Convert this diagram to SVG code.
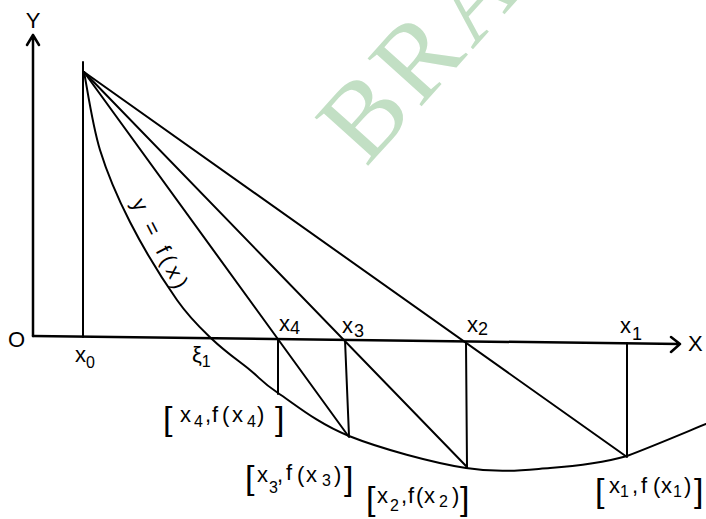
<svg xmlns="http://www.w3.org/2000/svg" width="706" height="519" viewBox="0 0 706 519">
<style>
.ax{stroke:#000;stroke-width:2.5;fill:none;stroke-linecap:round;stroke-linejoin:round}
.ln{stroke:#000;stroke-width:2;fill:none;stroke-linecap:round}
.t{font-family:"Liberation Sans",Arial,sans-serif;font-size:22px;fill:#000}
.s{font-size:16px}
.br{font-size:34px}
.wm{font-family:"Liberation Serif","Times New Roman",serif;font-size:110px;fill:#c2dfc4}
</style>
<rect width="706" height="519" fill="#fff"/>
<text class="wm" x="366" y="168" letter-spacing="6" transform="rotate(-48 366 168)">BRA</text>
<g id="axes">
<path class="ax" d="M33,336 L33,35 M27,45 L33,35 L39,45"/>
<path class="ax" d="M33,336 L680,344 M671,337 L680,344 L671,352"/>
<text class="t" x="33" y="28" text-anchor="middle" font-size="20">Y</text>
<text class="t" x="8" y="347" font-size="20">O</text>
<text class="t" x="688" y="351" font-size="19">X</text>
</g>
<g id="curve">
<path class="ln" d="M84,72 C86.7,85 92.3,125 100,150 C107.7,175 117.2,197 130,222 C142.8,247 163.2,280.3 177,300 C190.8,319.7 200.8,328.3 213,340 C225.2,351.7 239.2,361.2 250,370 C260.8,378.8 261.5,382 278,393 C294.5,404 317.7,423.5 349,436 C380.3,448.5 432.5,462.7 466,468 C499.5,473.3 523.2,470 550,468 C576.8,466 601,463.3 627,456 C653,446.3 692.8,429.3 706,424"/>
<text class="t" x="131" y="203" font-size="20" transform="rotate(63 131 203)" textLength="98">y = f(x)</text>
</g>
<g id="connectors">
<path class="ln" d="M83,62 L83,337"/>
<path class="ln" d="M84,72 L627,457"/>
<path class="ln" d="M84,72 L467,467"/>
<path class="ln" d="M84,72 L349,437"/>
<path class="ln" d="M278,339 L278,394"/>
<path class="ln" d="M345,340 L349,436"/>
<path class="ln" d="M466,342 L467,467"/>
<path class="ln" d="M627,343 L627,456"/>
</g>
<g id="x0"><text class="t" x="75" y="362">x<tspan class="s" y="368">0</tspan></text></g>
<g id="xi1"><text class="t" x="192" y="362" font-size="21">ξ<tspan class="s" font-size="14" y="367">1</tspan></text></g>
<g id="x4"><text class="t" x="279" y="331">x<tspan font-size="18" x="290" y="334">4</tspan></text></g>
<g id="x3"><text class="t" x="342" y="333">x<tspan font-size="18" x="354" y="337">3</tspan></text></g>
<g id="x2"><text class="t" x="467" y="332">x<tspan font-size="18" x="478" y="335">2</tspan></text></g>
<g id="x1"><text class="t" x="620" y="333">x<tspan font-size="18" x="632" y="340">1</tspan></text></g>
<g id="p4"><text class="t"><tspan class="br" x="163" y="430">[</tspan><tspan x="180" y="422">x</tspan><tspan class="s" x="194" y="427">4</tspan><tspan x="205" y="422">,</tspan><tspan x="212" y="422">f</tspan><tspan x="222" y="422">(</tspan><tspan x="232" y="422">x</tspan><tspan class="s" x="247" y="427">4</tspan><tspan x="257" y="422">)</tspan><tspan class="br" x="275" y="430">]</tspan></text></g>
<g id="p3"><text class="t"><tspan class="br" x="245" y="489">[</tspan><tspan x="257" y="482">x</tspan><tspan class="s" x="269" y="493">3</tspan><tspan x="277" y="482">,</tspan><tspan x="286" y="480">f</tspan><tspan x="297" y="482">(</tspan><tspan x="306" y="482">x</tspan><tspan class="s" x="322" y="486">3</tspan><tspan x="334" y="482">)</tspan><tspan class="br" x="344" y="490">]</tspan></text></g>
<g id="p2"><text class="t"><tspan class="br" x="366" y="510">[</tspan><tspan x="377" y="503">x</tspan><tspan class="s" x="390" y="511">2</tspan><tspan x="401" y="503">,</tspan><tspan x="408" y="503">f</tspan><tspan x="416" y="503">(</tspan><tspan x="424" y="503">x</tspan><tspan class="s" x="439" y="507">2</tspan><tspan x="452" y="503">)</tspan><tspan class="br" x="460" y="510">]</tspan></text></g>
<g id="p1"><text class="t"><tspan class="br" x="595" y="502">[</tspan><tspan x="609" y="493">x</tspan><tspan class="s" x="620" y="497">1</tspan><tspan x="632" y="493">,</tspan><tspan x="641" y="493">f</tspan><tspan x="653" y="493">(</tspan><tspan x="661" y="493">x</tspan><tspan class="s" x="673" y="497">1</tspan><tspan x="684" y="493">)</tspan><tspan class="br" x="694" y="502">]</tspan></text></g>
</svg>
